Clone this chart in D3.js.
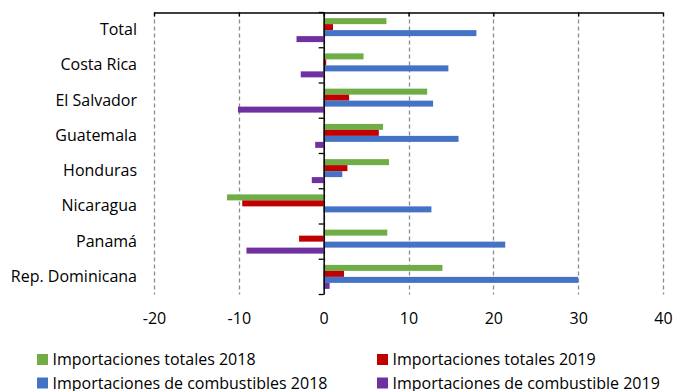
<!DOCTYPE html>
<html>
<head>
<meta charset="utf-8">
<script src="https://cdn.jsdelivr.net/npm/d3@7"></script>
<style>
  html, body { margin: 0; padding: 0; background: #fff; }
  svg { display: block; font-family: "Open Sans", sans-serif; }
</style>
</head>
<body>
<svg id="chart" width="675" height="391"></svg>
<script>
// Import growth by country (%)
const categories = ["Total", "Costa Rica", "El Salvador", "Guatemala", "Honduras", "Nicaragua", "Panamá", "Rep. Dominicana"];
const seriesNames = ["Importaciones totales 2018", "Importaciones totales 2019", "Importaciones de combustibles 2018", "Importaciones de combustible 2019"];
const totales2018 = [7.4, 4.7, 12.2, 7.0, 7.7, -11.4, 7.5, 14.0];
const totales2019 = [1.1, 0.3, 3.0, 6.5, 2.8, -9.6, -2.9, 2.4];
const combustibles2018 = [18.0, 14.7, 12.9, 15.9, 2.2, 12.7, 21.4, 30.0];
const combustible2019 = [-3.2, -2.7, -10.1, -1.0, -1.4, 0, -9.1, 0.7];
const xTicks = [-20, -10, 0, 10, 20, 30, 40];
const colors = ["#70AD47", "#C00000", "#4472C4", "#7030A0"];

const seriesValues = [totales2018, totales2019, combustibles2018, combustible2019];

const svg = d3.select("#chart");
const plotLeft = 154, plotRight = 663, plotTop = 12.5, plotBottom = 294.5;
const fontSize = 16;

const x = d3.scaleLinear().domain([-20, 40]).range([plotLeft, plotRight]);
const y = d3.scaleBand().domain(categories).range([plotTop, plotBottom]).paddingInner(0.32).paddingOuter(0.16);
const ySub = d3.scaleBand().domain(d3.range(seriesNames.length)).range([0, y.bandwidth()]);

// dashed vertical gridlines
svg.append("g")
  .selectAll("line")
  .data(xTicks)
  .join("line")
  .attr("x1", d => Math.round(x(d)) + 0.5)
  .attr("x2", d => Math.round(x(d)) + 0.5)
  .attr("y1", plotTop)
  .attr("y2", plotBottom)
  .attr("stroke", "#8c8c8c")
  .attr("stroke-width", 1.3)
  .attr("stroke-dasharray", "4,3");

// bars
const groups = svg.append("g")
  .selectAll("g")
  .data(categories)
  .join("g")
  .attr("transform", d => `translate(0,${y(d)})`);

groups.selectAll("rect")
  .data((c, i) => seriesValues.map((vals, s) => ({ s, v: vals[i] })))
  .join("rect")
  .attr("x", d => x(Math.min(0, d.v)))
  .attr("width", d => Math.abs(x(d.v) - x(0)))
  .attr("y", d => ySub(d.s))
  .attr("height", ySub.bandwidth())
  .attr("fill", d => colors[d.s]);

// horizontal axis line along the top with downward ticks
const xAxisTop = d3.axisBottom(x).tickValues(xTicks).tickSize(4).tickFormat("");
svg.append("g")
  .attr("transform", `translate(0,${plotTop})`)
  .call(xAxisTop)
  .call(g => g.select(".domain").attr("stroke", "#000").attr("stroke-width", 1.3).attr("d", `M${plotLeft},0.5H${plotRight}`))
  .call(g => g.selectAll(".tick line").attr("stroke", "#000").attr("stroke-width", 1.3));

// tick labels along the bottom
const xAxisBottom = d3.axisBottom(x).tickValues(xTicks).tickSize(0).tickPadding(0).tickFormat(d => String(d));
svg.append("g")
  .attr("transform", `translate(0,${plotBottom + 18})`)
  .call(xAxisBottom)
  .call(g => g.select(".domain").remove())
  .call(g => g.selectAll("text").attr("font-size", fontSize).attr("fill", "#000").attr("font-family", "Open Sans"));

// vertical category axis at zero
const yAxis = d3.axisLeft(y).tickSize(0).tickPadding(0).tickFormat("");
svg.append("g")
  .attr("transform", `translate(${x(0)},0)`)
  .call(yAxis)
  .call(g => g.select(".domain").attr("stroke", "#000").attr("stroke-width", 1.5).attr("d", `M0.5,${plotTop}V${plotBottom}`));

// category boundary ticks
const step = y.step();
svg.append("g")
  .selectAll("line")
  .data(d3.range(categories.length + 1))
  .join("line")
  .attr("x1", x(0) - 5)
  .attr("x2", x(0))
  .attr("y1", i => plotTop + i * step)
  .attr("y2", i => plotTop + i * step)
  .attr("stroke", "#000")
  .attr("stroke-width", 1.3);

// category labels
svg.append("g")
  .selectAll("text")
  .data(categories)
  .join("text")
  .attr("x", 137)
  .attr("y", d => y(d) + y.bandwidth() / 2 - 0.5)
  .attr("dy", "0.35em")
  .attr("text-anchor", "end")
  .attr("font-size", fontSize)
  .attr("fill", "#000")
  .text(d => d);

// legend
const legendPos = [[37, 359.5], [377, 359.5], [37, 383], [377, 383]];
const legend = svg.append("g")
  .selectAll("g")
  .data(seriesNames)
  .join("g")
  .attr("transform", (d, i) => `translate(${legendPos[i][0]},${legendPos[i][1]})`);
legend.append("rect")
  .attr("x", 0).attr("y", -5.5).attr("width", 11).attr("height", 11)
  .attr("fill", (d, i) => colors[i]);
legend.append("text")
  .attr("x", 15.5)
  .attr("dy", "0.35em")
  .attr("font-size", fontSize)
  .attr("fill", "#000")
  .text(d => d);
</script>
</body>
</html>
